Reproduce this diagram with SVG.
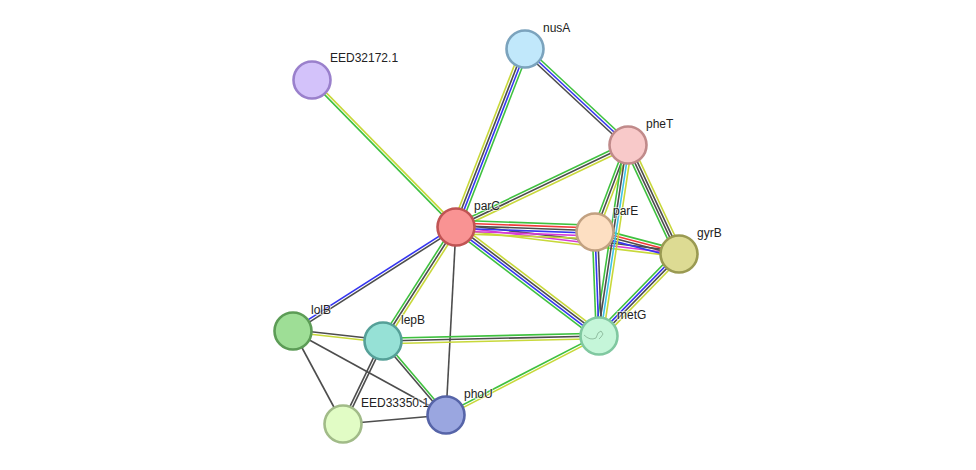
<svg xmlns="http://www.w3.org/2000/svg" width="976" height="470" viewBox="0 0 976 470">
<style>
.e line{stroke-width:1.6;fill:none}
.g{stroke:#3fc13f}.b{stroke:#3535f0}.k{stroke:#4d4d4d}.y{stroke:#c8d83a}.r{stroke:#f03a3a}.m{stroke:#d63ad6}.c{stroke:#3ec3e8}
.n circle{stroke-width:2.6}
.n text{font-family:"Liberation Sans",Arial,sans-serif;font-size:12px;fill:#222;stroke:#fff;stroke-width:2;stroke-opacity:0.6;paint-order:stroke}
</style>
<rect width="976" height="470" fill="#fff"/>
<g id="connectors" class="e">
<g transform="translate(312,80) rotate(45.59)"><line class="y" x1="0" y1="-1.3" x2="205.8" y2="-1.3"/><line class="g" x1="0" y1="1.3" x2="205.8" y2="1.3"/></g>
<g transform="translate(456,227) rotate(-68.82)"><line class="y" x1="0" y1="-4" x2="190.9" y2="-4"/><line class="k" x1="0" y1="-1.3" x2="190.9" y2="-1.3"/><line class="b" x1="0" y1="1.3" x2="190.9" y2="1.3"/><line class="g" x1="0" y1="4" x2="190.9" y2="4"/></g>
<g transform="translate(525,49) rotate(42.99)"><line class="g" x1="0" y1="-2.7" x2="140.8" y2="-2.7"/><line class="b" x1="0" y1="0" x2="140.8" y2="0"/><line class="k" x1="0" y1="2.7" x2="140.8" y2="2.7"/></g>
<g transform="translate(456,227) rotate(-25.49)"><line class="g" x1="0" y1="-2.7" x2="190.5" y2="-2.7"/><line class="k" x1="0" y1="0" x2="190.5" y2="0"/><line class="y" x1="0" y1="2.7" x2="190.5" y2="2.7"/></g>
<g transform="translate(456,227) rotate(6.90)"><line class="k" x1="0" y1="-2.7" x2="224.6" y2="-2.7"/><line class="m" x1="0" y1="0" x2="224.6" y2="0"/><line class="y" x1="0" y1="2.7" x2="224.6" y2="2.7"/></g>
<g transform="translate(456,227) rotate(2.06)"><line class="g" x1="0" y1="-6.7" x2="139.1" y2="-6.7"/><line class="r" x1="0" y1="-4" x2="139.1" y2="-4"/><line class="k" x1="0" y1="-1.3" x2="139.1" y2="-1.3"/><line class="b" x1="0" y1="1.3" x2="139.1" y2="1.3"/><line class="m" x1="0" y1="4" x2="139.1" y2="4"/><line class="y" x1="0" y1="6.7" x2="139.1" y2="6.7"/></g>
<g transform="translate(595,232) rotate(14.68)"><line class="g" x1="0" y1="-4" x2="86.8" y2="-4"/><line class="r" x1="0" y1="-1.3" x2="86.8" y2="-1.3"/><line class="k" x1="0" y1="1.3" x2="86.8" y2="1.3"/><line class="b" x1="0" y1="4" x2="86.8" y2="4"/></g>
<g transform="translate(628,145) rotate(110.77)"><line class="g" x1="0" y1="2.7" x2="93" y2="2.7"/><line class="k" x1="0" y1="0" x2="93" y2="0"/><line class="y" x1="0" y1="-2.7" x2="93" y2="-2.7"/></g>
<g transform="translate(628,145) rotate(98.63)"><line class="g" x1="0" y1="4" x2="193.2" y2="4"/><line class="k" x1="0" y1="1.3" x2="193.2" y2="1.3"/><line class="c" x1="0" y1="-1.3" x2="193.2" y2="-1.3"/><line class="y" x1="0" y1="-4" x2="193.2" y2="-4"/></g>
<g transform="translate(595,232) rotate(87.80)"><line class="g" x1="0" y1="2.7" x2="104.1" y2="2.7"/><line class="b" x1="0" y1="0" x2="104.1" y2="0"/><line class="k" x1="0" y1="-2.7" x2="104.1" y2="-2.7"/></g>
<g transform="translate(628,145) rotate(64.93)"><line class="g" x1="0" y1="4" x2="120.3" y2="4"/><line class="k" x1="0" y1="1.3" x2="120.3" y2="1.3"/><line class="k" x1="0" y1="-1.3" x2="120.3" y2="-1.3"/><line class="y" x1="0" y1="-4" x2="120.3" y2="-4"/></g>
<g transform="translate(679,254) rotate(134.29)"><line class="g" x1="0" y1="4" x2="114.6" y2="4"/><line class="b" x1="0" y1="1.3" x2="114.6" y2="1.3"/><line class="k" x1="0" y1="-1.3" x2="114.6" y2="-1.3"/><line class="y" x1="0" y1="-4" x2="114.6" y2="-4"/></g>
<g transform="translate(456,227) rotate(37.32)"><line class="y" x1="0" y1="-4" x2="179.8" y2="-4"/><line class="k" x1="0" y1="-1.3" x2="179.8" y2="-1.3"/><line class="b" x1="0" y1="1.3" x2="179.8" y2="1.3"/><line class="g" x1="0" y1="4" x2="179.8" y2="4"/></g>
<g transform="translate(456,227) rotate(147.46)"><line class="b" x1="0" y1="1.3" x2="193.4" y2="1.3"/><line class="k" x1="0" y1="-1.3" x2="193.4" y2="-1.3"/></g>
<g transform="translate(456,227) rotate(122.63)"><line class="g" x1="0" y1="2.7" x2="135.4" y2="2.7"/><line class="k" x1="0" y1="0" x2="135.4" y2="0"/><line class="y" x1="0" y1="-2.7" x2="135.4" y2="-2.7"/></g>
<line class="k" x1="456" y1="227" x2="446" y2="415"/>
<g transform="translate(293,331) rotate(6.34)"><line class="k" x1="0" y1="-1.3" x2="90.6" y2="-1.3"/><line class="y" x1="0" y1="1.3" x2="90.6" y2="1.3"/></g>
<line class="k" x1="293" y1="331" x2="343" y2="424"/>
<line class="k" x1="293" y1="331" x2="446" y2="415"/>
<g transform="translate(383,341) rotate(115.73)"><line class="k" x1="0" y1="1.3" x2="92.1" y2="1.3"/><line class="k" x1="0" y1="-1.3" x2="92.1" y2="-1.3"/></g>
<g transform="translate(383,341) rotate(49.59)"><line class="k" x1="0" y1="1.3" x2="97.2" y2="1.3"/><line class="g" x1="0" y1="-1.3" x2="97.2" y2="-1.3"/></g>
<line class="k" x1="343" y1="424" x2="446" y2="415"/>
<g transform="translate(383,341) rotate(-1.33)"><line class="g" x1="0" y1="-2.7" x2="216.1" y2="-2.7"/><line class="k" x1="0" y1="0" x2="216.1" y2="0"/><line class="y" x1="0" y1="2.7" x2="216.1" y2="2.7"/></g>
<g transform="translate(446,415) rotate(-27.31)"><line class="g" x1="0" y1="-1.3" x2="172.2" y2="-1.3"/><line class="y" x1="0" y1="1.3" x2="172.2" y2="1.3"/></g>
</g>
<g id="node-EED32172.1" class="n"><circle cx="312" cy="80" r="18.5" fill="#d3c2fa" stroke="#9a80cc"/><text x="330" y="62">EED32172.1</text></g>
<g id="node-nusA" class="n"><circle cx="525" cy="49" r="18.5" fill="#c1e8fb" stroke="#7ba3bd"/><text x="543" y="32">nusA</text></g>
<g id="node-pheT" class="n"><circle cx="628" cy="145" r="18.5" fill="#f8c9c9" stroke="#c08a8a"/><text x="646" y="128">pheT</text></g>
<g id="node-parC" class="n"><circle cx="456" cy="227" r="18.5" fill="#f99393" stroke="#c05454"/><text x="474" y="210">parC</text></g>
<g id="node-parE" class="n"><circle cx="595" cy="232" r="18.5" fill="#fddfc2" stroke="#c2a181"/><text x="613" y="215">parE</text></g>
<g id="node-gyrB" class="n"><circle cx="679" cy="254" r="18.5" fill="#dddb93" stroke="#9a9a52"/><text x="697" y="237">gyrB</text></g>
<g id="node-lolB" class="n"><circle cx="293" cy="331" r="18.5" fill="#9ede96" stroke="#5c9c56"/><text x="311" y="314">lolB</text></g>
<g id="node-lepB" class="n"><circle cx="383" cy="341" r="18.5" fill="#96e1d6" stroke="#55a098"/><text x="401" y="324">lepB</text></g>
<g id="node-metG" class="n"><circle cx="599" cy="336" r="18.5" fill="#c5f6d9" stroke="#80c8a0"/><path d="M584 335 Q590 341 596 338 L598 333 L601 331 L603 334 L601 337 L599 339" fill="none" stroke="#7aa88a" stroke-width="0.7"/><text x="617" y="319">metG</text></g>
<g id="node-EED33350.1" class="n"><circle cx="343" cy="424" r="18.5" fill="#e1fcc5" stroke="#a1bb88"/><text x="361" y="407">EED33350.1</text></g>
<g id="node-phoU" class="n"><circle cx="446" cy="415" r="18.5" fill="#9aa6e0" stroke="#5664a8"/><text x="464" y="398">phoU</text></g>
</svg>
